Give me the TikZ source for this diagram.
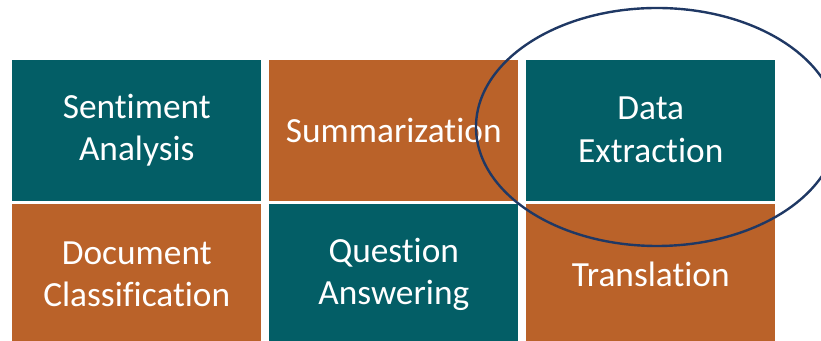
\documentclass[tikz,border=0pt]{standalone}
\usepackage{fontspec}
\setmainfont{Carlito}[Ligatures=NoCommon]
\usetikzlibrary{positioning}

\definecolor{tealfill}{RGB}{3,94,102}
\definecolor{ochrefill}{RGB}{186,98,41}
\definecolor{ringblue}{RGB}{31,56,100}

\tikzset{
  tile/.style={minimum width=186.75pt, minimum height=105.75pt, inner sep=0pt,
    align=center, text=white, font=\fontsize{26.5}{32}\selectfont},
  tealbox/.style={tile, fill=tealfill},
  ochrebox/.style={tile, fill=ochrefill},
}

\begin{document}
\begin{tikzpicture}[x=0.75pt, y=0.75pt]
            \useasboundingbox (0,0) rectangle (821,341);
            % top row
            \node[tealbox, anchor=north west] (sentiment) at (12,281.7) {Sentiment\\Analysis};
            \node[ochrebox, right=5.6pt of sentiment] (summar) {Summarization};
            \node[tealbox, right=5.6pt of summar] (dataext) {Data\\Extraction};
            % bottom row
            \node[ochrebox, below=2pt of sentiment] (docclass) {Document\\Classification};
            \node[tealbox, below=2pt of summar] (question) {Question\\Answering};
            \node[ochrebox, below=2pt of dataext] (translat) {Translation};
            % ring round the highlighted task
            \draw[ringblue, line width=1.8pt] (657,214) ellipse [x radius=135.75pt, y radius=89.25pt];
        \end{tikzpicture}
\end{document}
